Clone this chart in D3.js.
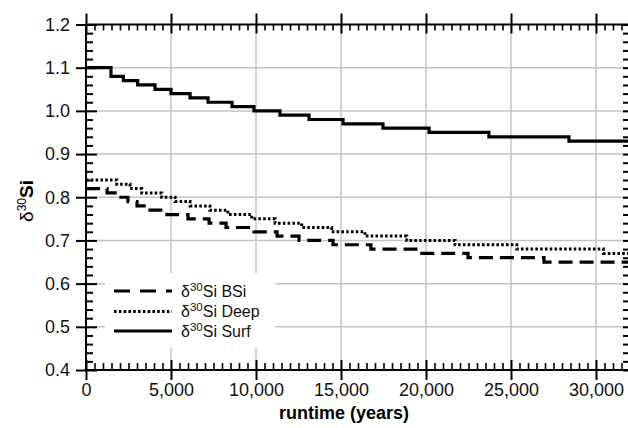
<!DOCTYPE html>
<html><head><meta charset="utf-8">
<script src="https://cdn.jsdelivr.net/npm/d3@7"></script>
<style>
body{margin:0;background:#fff}
svg{display:block;font-family:"Liberation Sans",Arial,Helvetica,sans-serif}
</style>
</head><body><svg id="c" width="628" height="428"></svg>
<script>
// ---- data (step series) ----
const surfTimes  = [0,1470,2200,3040,4060,5000,6120,7180,8590,9880,11410,13120,15120,17470,20180,23700,28410];
const surfValues = [1.10,1.08,1.07,1.06,1.05,1.04,1.03,1.02,1.01,1.00,0.99,0.98,0.97,0.96,0.95,0.94,0.93];
const deepTimes  = [0,1810,2590,3280,4450,5240,6120,7290,8350,9750,11120,12690,14450,16410,18870,21710,25340,30430];
const deepValues = [0.84,0.83,0.82,0.81,0.80,0.79,0.78,0.77,0.76,0.75,0.74,0.73,0.72,0.71,0.70,0.69,0.68,0.67];
const bsiTimes   = [0,1240,1880,2470,3000,3530,4760,6000,7240,8240,9880,11240,12530,14530,16760,19650,22470,26940];
const bsiValues  = [0.82,0.81,0.80,0.79,0.78,0.77,0.76,0.75,0.74,0.73,0.72,0.71,0.70,0.69,0.68,0.67,0.66,0.65];
const seriesNames = ["BSi","Deep","Surf"];
const xMajorTicks = [0,5000,10000,15000,20000,25000,30000];
const yMajorTicks = [0.4,0.5,0.6,0.7,0.8,0.9,1.0,1.1,1.2];
const xDomain = [0, 32000];
const yDomain = [0.4, 1.2];
const xTitle = "runtime (years)";

// ---- layout ----
const L = 86, R = 630, T = 24.5, B = 370;
const svg = d3.select("#c");
const x = d3.scaleLinear().domain(xDomain).range([L, R]);
const y = d3.scaleLinear().domain(yDomain).range([B, T]);

svg.append("defs").append("clipPath").attr("id","clip")
  .append("rect").attr("x",L).attr("y",T).attr("width",R-L).attr("height",B-T);

// grid
const grid = svg.append("g").attr("stroke","#c4c4c4").attr("stroke-width",1.5);
grid.selectAll(".gx").data(xMajorTicks.filter(d=>d>xDomain[0])).join("line")
  .attr("x1",d=>x(d)).attr("x2",d=>x(d)).attr("y1",T).attr("y2",B);
grid.selectAll(".gy").data(yMajorTicks.filter(d=>d>yDomain[0]&&d<yDomain[1])).join("line")
  .attr("y1",d=>y(d)).attr("y2",d=>y(d)).attr("x1",L).attr("x2",R);

// legend background (hides grid)
svg.append("rect").attr("x",105).attr("y",273).attr("width",170).attr("height",75).attr("fill","#fff");

// series
const mk = (ts, vs) => ts.map((t,i)=>[t,vs[i]]).concat([[xDomain[1], vs[vs.length-1]]]);
const line = d3.line().x(d=>x(d[0])).y(d=>y(d[1])).curve(d3.curveStepAfter);
const styles = {
  BSi:  {w:3.2, dash:"14,7"},
  Deep: {w:3,   dash:"2.6,2.2"},
  Surf: {w:3.2, dash:null}
};
const seriesData = {BSi: mk(bsiTimes,bsiValues), Deep: mk(deepTimes,deepValues), Surf: mk(surfTimes,surfValues)};
const gLines = svg.append("g").attr("clip-path","url(#clip)");
seriesNames.forEach(n=>{
  gLines.append("path").datum(seriesData[n]).attr("d",line)
    .attr("fill","none").attr("stroke","#000").attr("stroke-width",styles[n].w)
    .attr("stroke-dasharray",styles[n].dash);
});

// axes
const xMinor = d3.range(xDomain[0], xDomain[1]+1, 500).filter(d=>!xMajorTicks.includes(d));
const yMinor = d3.range(0, 41).map(i=>+(0.4+i*0.02).toFixed(2)).filter(d=>!yMajorTicks.some(m=>Math.abs(m-d)<1e-9));
const fontSize = 18;
function styleAxis(g, w){
  g.selectAll(".domain").remove();
  g.selectAll(".tick line").attr("stroke","#000").attr("stroke-width",w);
  g.selectAll(".tick text").attr("fill","#111").style("font-size",fontSize+"px");
}
// bottom
svg.append("g").attr("transform",`translate(0,${B})`)
  .call(d3.axisBottom(x).tickValues(xMajorTicks).tickSize(10).tickSizeOuter(0).tickPadding(3).tickFormat(d3.format(",")))
  .call(g=>styleAxis(g,2));
svg.append("g").attr("transform",`translate(0,${B})`)
  .call(d3.axisBottom(x).tickValues(xMajorTicks).tickSize(-10).tickSizeOuter(0).tickFormat(""))
  .call(g=>styleAxis(g,2));
svg.append("g").attr("transform",`translate(0,${B})`)
  .call(d3.axisBottom(x).tickValues(xMinor).tickSize(-7).tickSizeOuter(0).tickFormat(""))
  .call(g=>styleAxis(g,1.6));
// top
svg.append("g").attr("transform",`translate(0,${T})`)
  .call(d3.axisTop(x).tickValues(xMajorTicks).tickSize(11).tickSizeOuter(0).tickFormat(""))
  .call(g=>styleAxis(g,2));
svg.append("g").attr("transform",`translate(0,${T})`)
  .call(d3.axisTop(x).tickValues(xMajorTicks).tickSize(-9).tickSizeOuter(0).tickFormat(""))
  .call(g=>styleAxis(g,2));
svg.append("g").attr("transform",`translate(0,${T})`)
  .call(d3.axisTop(x).tickValues(xMinor).tickSize(-6).tickSizeOuter(0).tickFormat(""))
  .call(g=>styleAxis(g,1.6));
// left
svg.append("g").attr("transform",`translate(${L},0)`)
  .call(d3.axisLeft(y).tickValues(yMajorTicks).tickSize(10).tickSizeOuter(0).tickPadding(6).tickFormat(d3.format(".1f")))
  .call(g=>styleAxis(g,2));
svg.append("g").attr("transform",`translate(${L},0)`)
  .call(d3.axisLeft(y).tickValues(yMajorTicks).tickSize(-11).tickSizeOuter(0).tickFormat(""))
  .call(g=>styleAxis(g,2));
svg.append("g").attr("transform",`translate(${L},0)`)
  .call(d3.axisLeft(y).tickValues(yMinor).tickSize(-7).tickSizeOuter(0).tickFormat(""))
  .call(g=>styleAxis(g,2));
// right
svg.append("g").attr("transform",`translate(${R},0)`)
  .call(d3.axisRight(y).tickValues(yMajorTicks.concat(yMinor)).tickSize(-7).tickSizeOuter(0).tickFormat(""))
  .call(g=>styleAxis(g,2));

// frame
svg.append("rect").attr("x",L).attr("y",T).attr("width",R-L).attr("height",B-T)
  .attr("fill","none").attr("stroke","#000").attr("stroke-width",2);

// axis titles
svg.append("text").attr("x",(L+ x(30000))/2 + 3).attr("y",419).attr("text-anchor","middle")
  .style("font-size","18px").style("font-weight","bold").text(xTitle);
const yt = svg.append("text").attr("transform","translate(33,201) rotate(-90)").attr("text-anchor","middle")
  .style("font-size","19px");
yt.append("tspan").text("δ");
yt.append("tspan").attr("dy",-7).style("font-size","12px").text("30");
yt.append("tspan").attr("dy",7).style("font-weight","bold").text("Si");

// legend
const legY = [291, 311.5, 331];
seriesNames.forEach((n,i)=>{
  svg.append("line").attr("x1",114).attr("x2",172).attr("y1",legY[i]).attr("y2",legY[i])
    .attr("stroke","#000").attr("stroke-width",styles[n].w)
    .attr("stroke-dasharray", n==="BSi" ? "16,10" : styles[n].dash);
  const t = svg.append("text").attr("x",181).attr("y",legY[i]+5.5).style("font-size","16px").attr("fill","#111");
  t.append("tspan").text("δ");
  t.append("tspan").attr("dy",-6).style("font-size","11.5px").text("30");
  t.append("tspan").attr("dy",6).text("Si " + n);
});
</script>
</body></html>
